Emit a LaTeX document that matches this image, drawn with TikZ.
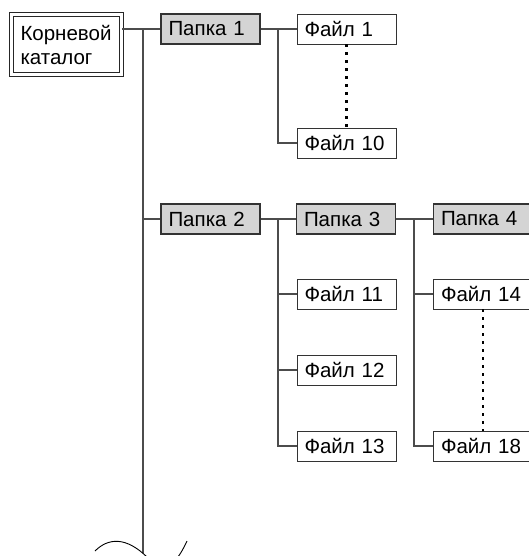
\documentclass[tikz,border=0pt]{standalone}
\usepackage{fontspec}
\setmainfont{Liberation Sans}

\tikzset{
  box/.style={draw=black!80,line width=0.9pt,text width=84pt,inner xsep=7.5pt,inner ysep=0pt,
    minimum height=30pt,align=left,font=\fontsize{20.5}{24}\selectfont},
  folder/.style={box,fill=black!17,line width=1.6pt},
  rootbox/.style={box,draw=black!85,double=white,double distance=2.2pt,line width=1pt,
    text width=92pt,inner xsep=9pt,minimum height=60pt},
  link/.style={draw=black!70,line width=1.1pt},
  gap/.style={line width=2.2pt,dash pattern=on 2.2pt off 5.8pt}
}

\begin{document}
\begin{tikzpicture}[x=1pt,y=-1pt]
\path[use as bounding box,clip] (0,0) rectangle (529,556);
\node[rootbox] (root) at (66.5,44.5) {Корневой\\каталог};
\foreach \x/\y/\n/\t in {210.5/29/p1/Папка 1, 210.5/219/p2/Папка 2, 346/219/p3/Папка 3, 483/219/p4/Папка 4}
  \node[folder] (\n) at (\x,\y) {\t};
\foreach \x/\y/\n/\t in {346.5/29/f1/Файл 1, 346.5/143/f10/Файл 10, 346.5/294/f11/Файл 11, 346.5/370/f12/Файл 12,
    346.5/446/f13/Файл 13, 483/294/f14/Файл 14, 483/446/f18/Файл 18}
  \node[box] (\n) at (\x,\y) {\t};
\coordinate (trunk) at (143,29);
\coordinate (tend) at (143,553);
\coordinate (b1) at (278,29);
\coordinate (b2) at (278,219);
\coordinate (b3) at (414,219);

\draw[link] (root.east |- p1.west) -- (p1.west);
\draw[link] (trunk) -- (tend);
\draw[link] (trunk |- p2.west) -- (p2.west);
\draw[link] (p1.east) -- (f1.west);
\draw[link] (b1) |- (f10.west);
\draw[link] (p2.east) -- (p3.west);
\draw[link] (p3.east) -- (p4.west);
\foreach \t in {f11,f12,f13}
  \draw[link] (b2) |- (\t.west);
\foreach \t in {f14,f18}
  \draw[link] (b3) |- (\t.west);
\draw[gap] (f1.south) -- (f10.north);
\draw[gap] (f14.south) -- (f18.north);

% break mark
\draw[line width=0.9pt] (95,551) .. controls (108,538) and (126,536) .. (148,558)
  .. controls (168,578) and (180,556) .. (187,541);
\end{tikzpicture}
\end{document}
